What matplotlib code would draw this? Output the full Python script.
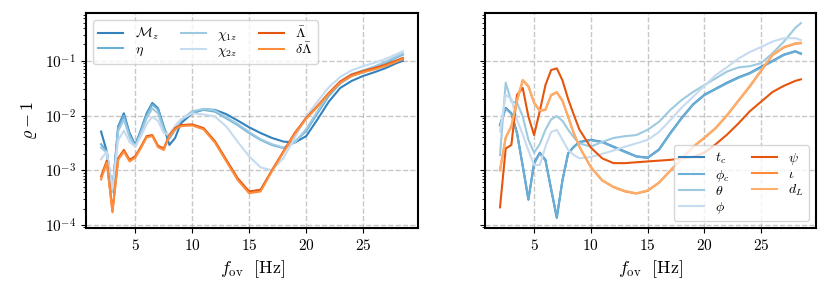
import numpy as np
import matplotlib
matplotlib.use("Agg")
from matplotlib import pyplot as plt

plt.rcParams['mathtext.fontset'] = 'cm'
plt.rcParams['font.family'] = 'serif'
plt.rcParams['font.serif'] = ['cmr10', 'DejaVu Serif']
plt.rcParams['axes.formatter.use_mathtext'] = True

# overlap frequencies (Hz)
f_ov = [2, 2.5, 3, 3.5, 4, 4.5, 5, 5.5, 6, 6.5, 7, 7.5, 8, 8.5, 9, 10,
        11, 12, 13, 14, 15, 16, 17, 18, 19, 20, 21, 22, 23, 24, 25, 26, 27, 28, 28.5]

# left panel: intrinsic parameters
Mz = [5.1e-3, 2.2e-3, 4.0e-4, 6.3e-3, 1.1e-2, 4.8e-3, 2.9e-3, 5.5e-3, 1.1e-2, 1.7e-2, 1.36e-2, 6.3e-3, 2.9e-3, 3.9e-3, 7.2e-3, 1.1e-2,
      1.3e-2, 1.27e-2, 1.06e-2, 8.1e-3, 6.1e-3, 4.8e-3, 3.9e-3, 3.35e-3, 3.2e-3, 4.2e-3, 8.5e-3, 1.8e-2, 3.2e-2, 4.3e-2, 5.3e-2, 6.2e-2, 7.4e-2, 9.2e-2, 1.0e-1]
eta = [3.0e-3, 2.2e-3, 4.2e-4, 6.0e-3, 1.0e-2, 4.5e-3, 2.8e-3, 5.3e-3, 1.05e-2, 1.6e-2, 1.3e-2, 6.0e-3, 3.8e-3, 5.5e-3, 8.0e-3, 1.15e-2,
       1.27e-2, 1.18e-2, 8.9e-3, 6.7e-3, 4.8e-3, 3.6e-3, 2.9e-3, 2.55e-3, 3.3e-3, 5.2e-3, 1.1e-2, 2.3e-2, 3.9e-2, 5.3e-2, 6.2e-2, 7.4e-2, 9.2e-2, 1.17e-1, 1.3e-1]
chi1z = [2.6e-3, 2.1e-3, 4.0e-4, 5.2e-3, 8.5e-3, 4.0e-3, 2.7e-3, 4.8e-3, 9.0e-3, 1.35e-2, 1.1e-2, 5.4e-3, 4.0e-3, 5.8e-3, 8.3e-3, 1.2e-2,
         1.32e-2, 1.24e-2, 9.3e-3, 7.0e-3, 5.0e-3, 3.7e-3, 3.0e-3, 2.6e-3, 3.2e-3, 5.6e-3, 1.2e-2, 2.5e-2, 4.2e-2, 5.7e-2, 6.7e-2, 7.9e-2, 9.7e-2, 1.22e-1, 1.36e-1]
chi2z = [1.6e-3, 2.2e-3, 4.5e-4, 3.5e-3, 5.3e-3, 3.3e-3, 2.7e-3, 4.2e-3, 7.0e-3, 9.5e-3, 8.0e-3, 4.8e-3, 4.5e-3, 6.5e-3, 8.5e-3, 1.1e-2,
         1.05e-2, 9.6e-3, 6.3e-3, 3.3e-3, 1.8e-3, 1.13e-3, 1.0e-3, 1.66e-3, 3.9e-3, 9.6e-3, 1.8e-2, 3.3e-2, 5.1e-2, 6.7e-2, 8.0e-2, 9.2e-2, 1.09e-1, 1.34e-1, 1.5e-1]
Lam = [7.7e-4, 1.5e-3, 1.8e-4, 1.66e-3, 2.35e-3, 1.55e-3, 1.8e-3, 2.7e-3, 4.2e-3, 4.4e-3, 2.8e-3, 2.5e-3, 4.4e-3, 5.9e-3, 6.7e-3, 6.9e-3,
       5.9e-3, 3.4e-3, 1.55e-3, 7.1e-4, 4.1e-4, 4.4e-4, 1.0e-3, 2.2e-3, 4.8e-3, 9.0e-3, 1.5e-2, 2.6e-2, 4.2e-2, 5.6e-2, 6.5e-2, 7.4e-2, 8.5e-2, 1.03e-1, 1.13e-1]
dLam = [6.8e-4, 1.4e-3, 1.7e-4, 1.55e-3, 2.2e-3, 1.45e-3, 1.7e-3, 2.55e-3, 4.0e-3, 4.2e-3, 2.65e-3, 2.35e-3, 4.2e-3, 5.6e-3, 6.4e-3, 6.6e-3,
        5.6e-3, 3.2e-3, 1.45e-3, 6.6e-4, 3.8e-4, 4.1e-4, 9.6e-4, 2.1e-3, 4.6e-3, 8.7e-3, 1.45e-2, 2.5e-2, 4.0e-2, 5.3e-2, 6.2e-2, 7.0e-2, 8.1e-2, 9.8e-2, 1.08e-1]

# right panel: extrinsic parameters
tc = [6.8e-3, 1.38e-2, 1.1e-2, 4.8e-3, 1.2e-3, 2.9e-4, 1.35e-3, 2.1e-3, 1.55e-3, 4.5e-4, 1.35e-4, 6.6e-4, 2.05e-3, 2.7e-3, 3.3e-3, 3.6e-3,
      3.3e-3, 2.7e-3, 2.2e-3, 1.8e-3, 1.7e-3, 2.4e-3, 4.8e-3, 9.1e-3, 1.6e-2, 2.4e-2, 3.1e-2, 4.0e-2, 5.0e-2, 6.0e-2, 7.8e-2, 1.0e-1, 1.3e-1, 1.5e-1, 1.36e-1]
phic = [6.6e-3, 1.35e-2, 1.08e-2, 4.7e-3, 1.2e-3, 3.0e-4, 1.3e-3, 2.05e-3, 1.5e-3, 4.6e-4, 1.4e-4, 6.5e-4, 2.0e-3, 2.65e-3, 3.25e-3, 3.55e-3,
        3.25e-3, 2.65e-3, 2.15e-3, 1.78e-3, 1.68e-3, 2.35e-3, 4.7e-3, 8.9e-3, 1.58e-2, 2.35e-2, 3.05e-2, 3.9e-2, 4.9e-2, 5.9e-2, 7.6e-2, 9.8e-2, 1.28e-1, 1.48e-1, 1.34e-1]
theta = [1.9e-3, 4.0e-2, 1.8e-2, 1.7e-2, 9.7e-3, 3.6e-3, 2.1e-3, 3.0e-3, 5.5e-3, 8.5e-3, 9.8e-3, 8.0e-3, 5.5e-3, 4.0e-3, 3.1e-3, 2.7e-3,
         3.3e-3, 3.9e-3, 4.2e-3, 4.4e-3, 5.5e-3, 7.7e-3, 1.27e-2, 1.93e-2, 2.7e-2, 3.6e-2, 4.8e-2, 6.4e-2, 7.6e-2, 8.0e-2, 9.1e-2, 1.38e-1, 2.25e-1, 4.0e-1, 4.9e-1]
phi = [5.1e-3, 2.4e-2, 2.0e-2, 8.3e-3, 4.5e-3, 2.3e-3, 1.25e-3, 1.25e-3, 2.7e-3, 5.0e-3, 5.5e-3, 3.6e-3, 2.35e-3, 1.9e-3, 1.65e-3, 1.75e-3,
       2.0e-3, 2.3e-3, 2.7e-3, 3.1e-3, 3.6e-3, 5.0e-3, 8.3e-3, 1.4e-2, 2.2e-2, 3.5e-2, 5.5e-2, 7.7e-2, 1.1e-1, 1.45e-1, 1.8e-1, 2.25e-1, 2.6e-1, 2.6e-1, 2.4e-1]
psi = [2.1e-4, 2.5e-3, 2.9e-3, 2.4e-2, 3.2e-2, 9.6e-3, 4.4e-3, 1.2e-2, 3.6e-2, 6.8e-2, 7.3e-2, 4.4e-2, 2.0e-2, 1.03e-2, 5.5e-3, 2.6e-3,
       1.65e-3, 1.35e-3, 1.35e-3, 1.4e-3, 1.45e-3, 1.5e-3, 1.55e-3, 1.65e-3, 1.75e-3, 2.1e-3, 3.0e-3, 4.5e-3, 7.2e-3, 1.2e-2, 1.8e-2, 2.7e-2, 3.5e-2, 4.3e-2, 4.6e-2]
iota = [1.0e-3, 3.9e-3, 6.4e-3, 1.85e-2, 4.4e-2, 3.4e-2, 1.7e-2, 1.22e-2, 1.27e-2, 2.35e-2, 2.65e-2, 1.85e-2, 9.4e-3, 4.7e-3, 2.65e-3, 1.13e-3,
        6.5e-4, 4.9e-4, 4.1e-4, 3.75e-4, 4.2e-4, 5.9e-4, 9.8e-4, 1.62e-3, 2.65e-3, 3.9e-3, 5.9e-3, 1.01e-2, 1.86e-2, 3.4e-2, 6.6e-2, 1.27e-1, 1.76e-1, 2.05e-1, 2.1e-1]
dL = [1.0e-3, 4.0e-3, 6.5e-3, 1.9e-2, 4.5e-2, 3.5e-2, 1.75e-2, 1.25e-2, 1.3e-2, 2.4e-2, 2.7e-2, 1.9e-2, 9.6e-3, 4.8e-3, 2.7e-3, 1.15e-3,
      6.6e-4, 5.0e-4, 4.2e-4, 3.8e-4, 4.3e-4, 6.0e-4, 1.0e-3, 1.65e-3, 2.7e-3, 4.0e-3, 6.0e-3, 1.03e-2, 1.9e-2, 3.5e-2, 6.8e-2, 1.3e-1, 1.8e-1, 2.1e-1, 2.15e-1]

blues = ['#3182bd', '#6baed6', '#9ecae1', '#c6dbef']
oranges = ['#e6550d', '#fd8d3c', '#fdae6b']

fig = plt.figure(figsize=(8.3, 2.97), dpi=100)
ax1 = fig.add_axes([0.1036, 0.2323, 0.4, 0.7239])
ax2 = fig.add_axes([0.5843, 0.2323, 0.3988, 0.7239], sharey=ax1)

left = [(Mz, r'$\mathcal{M}_z$'), (eta, r'$\eta$'), (chi1z, r'$\chi_{1z}$'), (chi2z, r'$\chi_{2z}$'),
        (Lam, r'$\bar{\Lambda}$'), (dLam, r'$\delta\bar{\Lambda}$')]
for (y, lab), c in zip(left, blues + oranges[:2]):
    ax1.plot(f_ov, y, color=c, lw=1.5, label=lab)

right = [(tc, r'$t_c$'), (phic, r'$\phi_c$'), (theta, r'$\theta$'), (phi, r'$\phi$'),
         (psi, r'$\psi$'), (iota, r'$\iota$'), (dL, r'$d_L$')]
for (y, lab), c in zip(right, blues + oranges):
    ax2.plot(f_ov, y, color=c, lw=1.5, label=lab)

for ax in (ax1, ax2):
    ax.set_yscale('log')
    ax.grid(True, ls='--', color='#b0b0b0', alpha=0.7, lw=1)
    ax.set_xticks([5, 10, 15, 20, 25])
    ax.tick_params(labelsize=11)
    for s in ax.spines.values():
        s.set_linewidth(1.5)
    ax.set_xlabel(r'$f_{\rm ov}\ \ [\mathrm{Hz}]$', fontsize=13)
ax1.set_ylim(8.8e-5, 0.75)
ax1.set_ylabel(r'$\varrho - 1$', fontsize=13)
plt.setp(ax2.get_yticklabels(), visible=False)

ax1.legend(loc='upper left', ncol=3, fontsize=10, handlelength=1.8, columnspacing=1.6,
           labelspacing=0.1, borderpad=0.4)
ax2.legend(loc='lower right', ncol=2, fontsize=10, handlelength=1.8, columnspacing=1.6,
           labelspacing=0.1, borderpad=0.4)

fig.savefig('out.png', dpi=100)
